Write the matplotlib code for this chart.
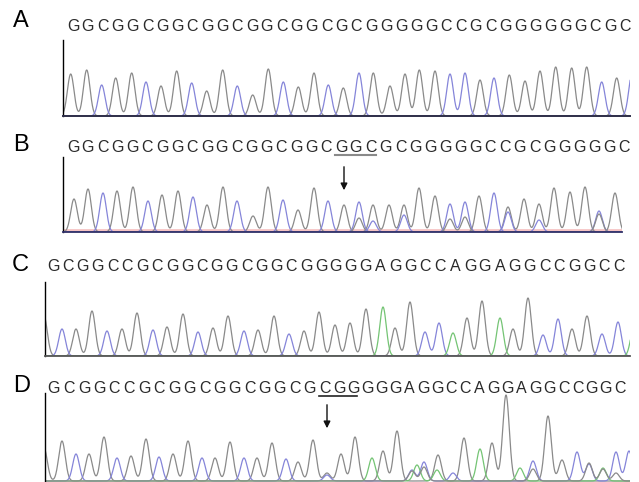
import numpy as np
import matplotlib.pyplot as plt
from matplotlib.lines import Line2D
from matplotlib.patches import FancyArrowPatch

W, H = 639, 482

# ---- panel A ----
a_seq = "GGCGGCGGCGGCGGCGGCGCGGGGGCCGCGGGGGGCGC"
a_pos = [70.7, 86.7, 101.7, 115.7, 131.7, 146, 161, 176.7, 191.7, 206.7, 222.7, 237.3,
         252.7, 268.3, 283.3, 298.3, 314, 328.3, 343.3, 359, 373.3, 390, 405, 419.3,
         435, 450, 465, 480, 494, 509.3, 525, 540, 555.7, 571.7, 586.7, 601.7, 616.7, 632]
a_base = "GGCGGCGGCGGCGGCGGCGCGGGGGCCGCGGGGGGCGC"
a_height = [42, 46, 31, 38, 43, 34, 30, 45, 33, 25, 46, 30, 21, 47, 34, 29, 43, 31, 28,
            43, 43, 30, 42, 46, 45, 42, 43, 36, 38, 41, 35, 45, 49, 48, 49, 34, 38, 42]

# ---- panel B ----
b_seq = "GGCGGCGGCGGCGGCGGCGGCGCGGGGGCCGCGGGGGC"
b_pos = [74, 88, 103, 117, 133, 148, 162, 178, 193, 207, 223, 237, 253, 268, 283, 298,
         314, 328, 344, 359, 373, 389, 404, 419, 435, 450, 465, 479, 494, 508, 524, 539,
         554, 570, 585, 599, 615]
b_base = "GGCGGCGGCGGCGGCGGCGCGGGGGCCGCGGGGGGCG"
b_height = [33, 43, 39, 41, 45, 31, 37, 41, 35, 27, 45, 31, 16, 45, 32, 22, 44, 31, 27,
            30, 27, 27, 27, 44, 36, 28, 30, 36, 39, 25, 33, 28, 44, 40, 45, 21, 39]
b2_pos = [359, 373, 404, 450, 465, 508, 539, 599]
b2_base = "GCCGGCCG"
b2_height = [14, 11, 17, 13, 15, 20, 12, 18]

# ---- panel C ----
c_seq = "GCGGCCGCGGCGGCGGCGGGGGAGGCCAGGAGGCCGGCC"
c_pos = [44, 62, 76, 92, 107, 122, 137, 153, 167, 183, 198, 213, 228, 244, 258, 274,
         289, 304, 319, 335, 350, 366, 383, 395, 410, 425, 439, 453, 467, 482, 500, 513,
         528, 543, 558, 572, 587, 602, 618, 634]
c_base = "GCGGCGGCGGCGGCGGCGGGGGAGGCCAGGAGGCCGGCCA"
c_height = [40, 27, 27, 45, 25, 27, 43, 26, 29, 42, 24, 28, 40, 25, 26, 40, 22, 25, 44,
            31, 33, 47, 49, 28, 54, 24, 33, 23, 38, 55, 38, 27, 58, 21, 37, 27, 40, 22,
            34, 30]

# ---- panel D ----
d_seq = "GCGGCCGCGGCGGCGGCGCGGGGGAGGCCAGGAGGCCGGC"
d_pos = [44, 62, 76, 89, 104, 117, 131, 146, 159, 173, 188, 202, 215, 230, 244, 257,
         272, 286, 298, 313, 327, 327, 341, 355, 372, 383, 397, 412, 417, 424, 438, 437,
         453, 464, 480, 492, 506, 520, 533, 548, 562, 577, 589, 603, 616, 629]
d_base = "GGCGGCGGCGGCGGCGGCGGCGGGAGGCACGACGAGGACGGCCACC"
d_height = [33, 40, 27, 27, 44, 23, 25, 42, 24, 27, 40, 23, 23, 39, 23, 23, 38, 22, 19,
            41, 6, 8, 27, 44, 23, 30, 50, 11, 16, 19, 26, 11, 8, 43, 32, 38, 86, 13, 20,
            65, 21, 29, 17, 13, 29, 30]
d2_pos = [412, 424, 533, 589, 603, 616]
d2_base = "GGGGGG"
d2_height = [10, 14, 12, 18, 12, 8]

colors = {'G': '#8a8a8a', 'C': '#8585d9', 'A': '#74c474', 'T': '#e08a8a'}


def px_rect(x0, y0, x1, y1):
    return [x0 / W, 1 - y1 / H, (x1 - x0) / W, (y1 - y0) / H]


def fx(x):
    return x / W


def fy(y):
    return 1 - y / H


def draw_trace(ax, pos, base, height, x0, x1, sigma=3.3):
    x = np.linspace(x0 - 5, x1 + 5, 2000)
    for b in "GCAT":
        idx = [i for i, c in enumerate(base) if c == b]
        if not idx:
            continue
        y = np.zeros_like(x)
        for i in idx:
            y += height[i] * np.exp(-(x - pos[i]) ** 2 / (2 * sigma ** 2))
        ax.plot(x, y, color=colors[b], lw=0.9, zorder=2)


def make_axes(x0, y0, x1, y1, ymin=0):
    ax = fig.add_axes(px_rect(x0, y0, x1, y1))
    ax.set_xlim(x0, x1)
    ax.set_ylim(ymin, y1 - y0 + ymin)
    ax.set_xticks([])
    ax.set_yticks([])
    ax.spines['top'].set_visible(False)
    ax.spines['right'].set_visible(False)
    ax.spines['left'].set_linewidth(1.0)
    ax.patch.set_alpha(0)
    return ax


def put_seq(seq, centers, baseline_y):
    for ch, cx in zip(seq, centers):
        fig.text(fx(cx), fy(baseline_y), ch, ha='center', va='baseline',
                 fontsize=11.5, family='Liberation Sans', color='#2a2a2a')


fig = plt.figure(figsize=(W / 100, H / 100), dpi=100)

# A
axA = make_axes(63, 40, 630, 116)
draw_trace(axA, a_pos, a_base, a_height, 63, 630)
axA.spines['bottom'].set_color('#2e2e48')
axA.spines['bottom'].set_linewidth(1.4)
put_seq(a_seq, np.linspace(73, 625, len(a_seq)), 31)
fig.text(fx(13), fy(27), 'A', fontsize=17, family='Liberation Sans', va='baseline')

# B
axB = make_axes(63, 157, 622, 232)
axB.axhline(1.6, color='#f6c4c4', lw=2.0, zorder=1)
draw_trace(axB, b_pos, b_base, b_height, 63, 622)
draw_trace(axB, b2_pos, b2_base, b2_height, 63, 622)
axB.spines['bottom'].set_color('#303068')
axB.spines['bottom'].set_linewidth(1.3)
put_seq(b_seq, np.linspace(73, 624, len(b_seq)), 152)
fig.text(fx(13), fy(151), 'B', fontsize=17, family='Liberation Sans', va='baseline')
fig.add_artist(Line2D([fx(335), fx(376)], [fy(154.5)] * 2, color='#8a8a8a', lw=1.5))
fig.add_artist(FancyArrowPatch((fx(344), fy(164)), (fx(344), fy(193)),
                               transform=fig.transFigure, arrowstyle='-|>',
                               mutation_scale=10, lw=1.0, color='#111111'))

# C
axC = make_axes(45, 282, 630, 356)
draw_trace(axC, c_pos, c_base, c_height, 45, 630)
axC.spines['bottom'].set_color('#555555')
axC.spines['bottom'].set_linewidth(1.3)
put_seq(c_seq, np.linspace(53, 619, len(c_seq)), 271)
fig.text(fx(12), fy(271), 'C', fontsize=17, family='Liberation Sans', va='baseline')

# D
axD = make_axes(45, 393, 630, 482, ymin=-1)
draw_trace(axD, d_pos, d_base, d_height, 45, 630)
draw_trace(axD, d2_pos, d2_base, d2_height, 45, 630)
axD.spines['bottom'].set_visible(False)
d_centers = np.concatenate([np.linspace(54, 325, 19), np.linspace(325, 620, 22)[1:]])
put_seq(d_seq, d_centers, 393)
fig.text(fx(13), fy(392), 'D', fontsize=17, family='Liberation Sans', va='baseline')
fig.add_artist(Line2D([fx(319), fx(357)], [fy(395.5)] * 2, color='#222222', lw=1.2))
fig.add_artist(FancyArrowPatch((fx(327), fy(402)), (fx(327), fy(431)),
                               transform=fig.transFigure, arrowstyle='-|>',
                               mutation_scale=10, lw=1.0, color='#111111'))

fig.savefig('out.png', dpi=100)
